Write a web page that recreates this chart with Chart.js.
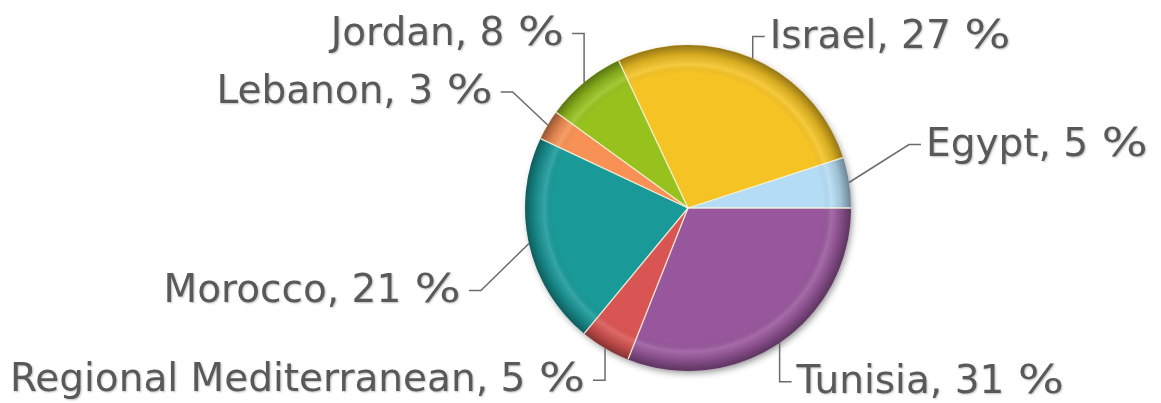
<!DOCTYPE html>
<html>
<head>
<meta charset="utf-8">
<script src="https://cdn.jsdelivr.net/npm/chart.js@4"></script>
<style>
  html, body { margin: 0; padding: 0; background: #fff; }
  #wrap { width: 1161px; height: 403px; }
</style>
</head>
<body>
<div id="wrap"><canvas id="pieChart"></canvas></div>
<script>
const countries = ["Tunisia", "Regional Mediterranean", "Morocco", "Lebanon", "Jordan", "Israel", "Egypt"];
const shares = [31, 5, 21, 3, 8, 27, 5];
const sliceColors = ["#98579c", "#d95553", "#1a9999", "#f79155", "#97c21e", "#f5c324", "#b4dcf4"];

// where each leader line bends, relative to the slice edge (dx, dy)
const leaderBends = [[0, 39], [0, 32], [-48, 47], [-35, -33], [0, -49], [0, -22], [60, -38]];

// label text, with a wider percent sign (the original font has a broad one)
function labelWidth(ctx, main) {
    return ctx.measureText(main).width + 1 + ctx.measureText("%").width * 1.25;
}

function drawLabel(ctx, main, x, y) {
    ctx.textAlign = "left";
    ctx.fillText(main, x, y);
    const px = x + ctx.measureText(main).width + 1;
    ctx.save();
    ctx.translate(px, y);
    ctx.scale(1.25, 1);
    ctx.fillText("%", 0, 0);
    ctx.restore();
}

const pieShading = {
    id: "pieShading",
    beforeDatasetsDraw(chart) {
        const arc = chart.getDatasetMeta(0).data[0];
        const ctx = chart.ctx;
        ctx.save();
        ctx.shadowColor = "rgba(0,0,0,0.45)";
        ctx.shadowBlur = 7;
        ctx.shadowOffsetX = 2;
        ctx.shadowOffsetY = 3;
        ctx.fillStyle = "#888";
        ctx.beginPath();
        ctx.arc(arc.x, arc.y, arc.outerRadius - 1, 0, Math.PI * 2);
        ctx.fill();
        ctx.restore();
    },
    afterDatasetsDraw(chart) {
        const arcs = chart.getDatasetMeta(0).data;
        const ctx = chart.ctx;
        const cx = arcs[0].x, cy = arcs[0].y, r = arcs[0].outerRadius;
        ctx.save();
        ctx.beginPath();
        ctx.arc(cx, cy, r, 0, Math.PI * 2);
        ctx.clip();
        const g = ctx.createRadialGradient(cx, cy, 0, cx, cy, r);
        g.addColorStop(0, "rgba(0,0,0,0)");
        g.addColorStop(0.83, "rgba(0,0,0,0)");
        g.addColorStop(0.88, "rgba(255,255,255,0.12)");
        g.addColorStop(0.94, "rgba(0,0,0,0.12)");
        g.addColorStop(1, "rgba(0,0,0,0.4)");
        ctx.fillStyle = g;
        ctx.fillRect(cx - r, cy - r, 2 * r, 2 * r);
        // separators between slices
        ctx.strokeStyle = "rgba(250,248,225,0.9)";
        ctx.lineWidth = 1.3;
        arcs.forEach(a => {
            ctx.beginPath();
            ctx.moveTo(cx, cy);
            ctx.lineTo(cx + r * Math.cos(a.startAngle), cy + r * Math.sin(a.startAngle));
            ctx.stroke();
        });
        ctx.restore();
    },
    afterDraw(chart) {
        const arcs = chart.getDatasetMeta(0).data;
        const ctx = chart.ctx;
        ctx.save();
        ctx.font = '39px "DejaVu Sans"';
        ctx.textBaseline = "middle";
        arcs.forEach((a, i) => {
            const mid = (a.startAngle + a.endAngle) / 2;
            const ex = a.x + a.outerRadius * Math.cos(mid);
            const ey = a.y + a.outerRadius * Math.sin(mid);
            const bx = ex + leaderBends[i][0];
            const by = ey + leaderBends[i][1];
            const dir = Math.cos(mid) >= 0 ? 1 : -1;
            const hx = bx + dir * 12;
            ctx.strokeStyle = "#6b6b6b";
            ctx.lineWidth = 1.5;
            ctx.beginPath();
            ctx.moveTo(ex, ey);
            ctx.lineTo(bx, by);
            ctx.lineTo(hx, by);
            ctx.stroke();
            const main = countries[i] + ", " + shares[i] + " ";
            const w = labelWidth(ctx, main);
            const tx = dir > 0 ? hx + 5 : hx - 8 - w;
            ctx.fillStyle = "#595959";
            ctx.shadowColor = "rgba(0,0,0,0.25)";
            ctx.shadowBlur = 2;
            ctx.shadowOffsetX = 1;
            ctx.shadowOffsetY = 1;
            drawLabel(ctx, main, tx, by + 1);
            ctx.shadowColor = "transparent";
        });
        ctx.restore();
    }
};

new Chart(document.getElementById("pieChart"), {
    type: "pie",
    data: {
        labels: countries,
        datasets: [{
            data: shares,
            backgroundColor: sliceColors,
            borderWidth: 0,
            hoverOffset: 0
        }]
    },
    options: {
        responsive: true,
        maintainAspectRatio: false,
        animation: false,
        rotation: 90,
        radius: 163,
        layout: { padding: { left: 215, right: 0, top: 20, bottom: 7 } },
        plugins: {
            legend: { display: false },
            tooltip: { enabled: false }
        }
    },
    plugins: [pieShading]
});
</script>
</body>
</html>
